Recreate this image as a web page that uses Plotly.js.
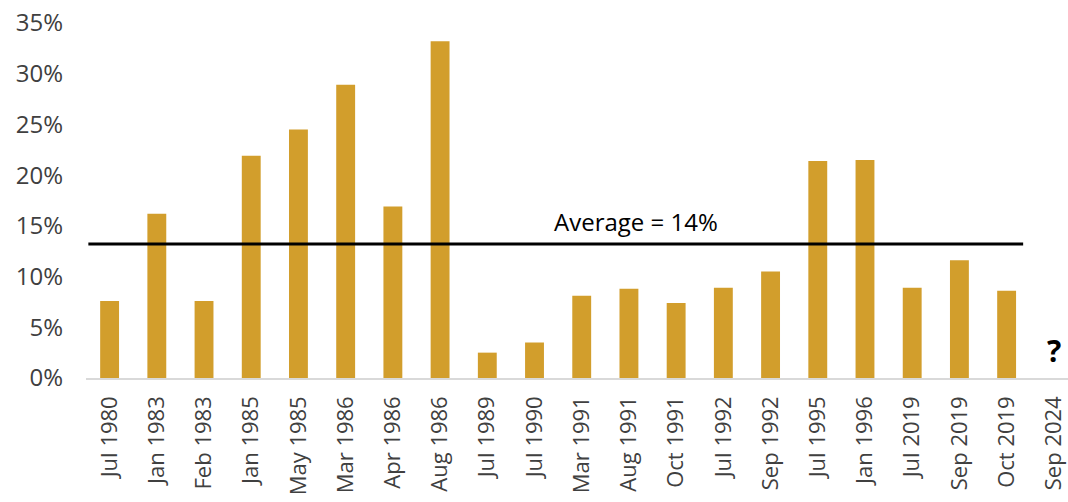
<!DOCTYPE html>
<html>
<head>
<meta charset="utf-8">
<script src="https://cdn.plot.ly/plotly-3.0.1.min.js"></script>
<style>
  html, body { margin: 0; padding: 0; background: #fff; }
  #chart { width: 1068px; height: 502px; }
</style>
</head>
<body>
<div id="chart"></div>
<script>
const periods = ['Jul 1980', 'Jan 1983', 'Feb 1983', 'Jan 1985', 'May 1985', 'Mar 1986', 'Apr 1986', 'Aug 1986',
    'Jul 1989', 'Jul 1990', 'Mar 1991', 'Aug 1991', 'Oct 1991', 'Jul 1992', 'Sep 1992', 'Jul 1995',
    'Jan 1996', 'Jul 2019', 'Sep 2019', 'Oct 2019', 'Sep 2024'];
const returns = [7.6, 16.2, 7.6, 21.9, 24.5, 28.9, 16.9, 33.2,
    2.5, 3.5, 8.1, 8.8, 7.4, 8.9, 10.5, 21.4,
    21.5, 8.9, 11.6, 8.6, null];
const averageLevel = 13.2;
const averageLabel = 'Average = 14%';
const yTicks = [0, 5, 10, 15, 20, 25, 30, 35];

const fontFamily = '"Open Sans", "DejaVu Sans", sans-serif';
const textColor = '#404040';

const bars = {
    type: 'bar',
    x: periods.map((p, i) => i),
    y: returns,
    width: 0.4,
    marker: { color: '#D29E2C' },
    hoverinfo: 'x+y'
};

const avgLine = {
    type: 'scatter',
    mode: 'lines',
    x: [-0.45, 19.35],
    y: [averageLevel, averageLevel],
    line: { color: '#000000', width: 3 },
    hoverinfo: 'skip'
};

const layout = {
    width: 1068,
    height: 502,
    margin: { l: 86, r: 0, t: 23, b: 124 },
    paper_bgcolor: '#ffffff',
    plot_bgcolor: '#ffffff',
    showlegend: false,
    font: { family: fontFamily, size: 24, color: textColor },
    xaxis: {
        range: [-0.5, 20.3],
        tickmode: 'array',
        tickvals: periods.map((p, i) => i),
        ticktext: periods,
        tickangle: -90,
        ticks: '',
        showgrid: false,
        zeroline: false,
        showline: true,
        linecolor: '#d9d9d9',
        linewidth: 1.5,
        tickfont: { family: fontFamily, size: 22, color: textColor },
        ticklabelstandoff: 8,
        ticklabeloverflow: 'allow',
        fixedrange: true
    },
    yaxis: {
        range: [0, 35],
        tickmode: 'array',
        tickvals: yTicks,
        ticktext: yTicks.map(v => v + '%'),
        showgrid: false,
        zeroline: false,
        showline: false,
        ticks: '',
        tickfont: { family: fontFamily, size: 24, color: textColor },
        ticklabelstandoff: 22,
        fixedrange: true
    },
    annotations: [
        {
            x: 11.15, y: 15.4, xref: 'x', yref: 'y',
            text: averageLabel, showarrow: false,
            font: { family: fontFamily, size: 24, color: '#000000' }
        },
        {
            x: 20, y: 2.7, xref: 'x', yref: 'y',
            text: '<b>?</b>', showarrow: false,
            font: { family: fontFamily, size: 30, color: '#000000' }
        }
    ]
};

Plotly.newPlot('chart', [bars, avgLine], layout, { displayModeBar: false, staticPlot: true });
</script>
</body>
</html>
